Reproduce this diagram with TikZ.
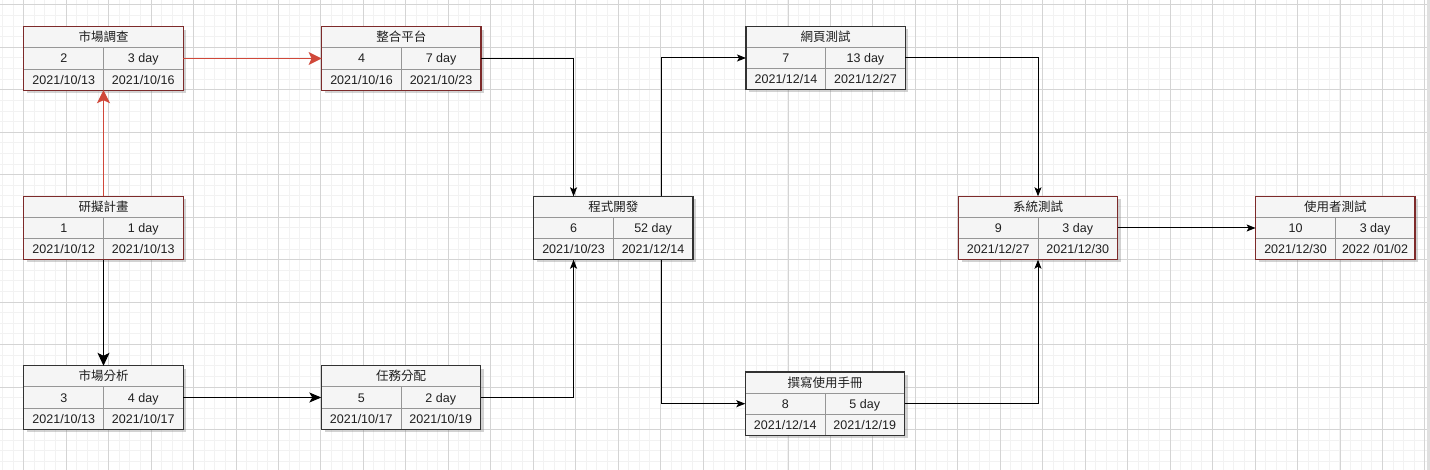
\documentclass[tikz,border=0pt]{standalone}
\usepackage{fontspec}
\setmainfont{Liberation Sans}
\newfontfamily\cjk{Noto Sans CJK TC}
\usetikzlibrary{arrows.meta,shadows}

\definecolor{gridminor}{RGB}{242,242,242}
\definecolor{gridmajor}{RGB}{212,212,212}
\definecolor{cellfill}{RGB}{245,245,245}
\definecolor{critborder}{RGB}{125,42,42}
\definecolor{normborder}{RGB}{50,50,50}
\definecolor{critline}{RGB}{208,72,58}
\definecolor{celldiv}{RGB}{150,150,150}

\tikzset{
  taskbox/.style={rectangle, fill=cellfill, minimum width=159pt, minimum height=63pt,
    inner sep=0pt, drop shadow={shadow xshift=3pt, shadow yshift=-3pt, opacity=0.35}},
  celltext/.style={font=\fontsize{12.5}{14}\selectfont, text=black!88, inner sep=0pt,
    text height=9pt, text depth=0pt},
  titletext/.style={celltext, font=\fontsize{12.5}{14}\selectfont\cjk},
  flow/.style={draw=black, line width=1pt, -{Stealth[length=9pt,width=7pt,inset=2pt]}},
  midflow/.style={flow, -{Stealth[length=12pt,width=10pt,inset=3pt]}},
  bigflow/.style={flow, -{Stealth[length=13pt,width=12pt,inset=3pt]}},
  critflow/.style={draw=critline, line width=1.2pt, -{Stealth[length=13pt,width=13pt,inset=3pt]}}
}

% name, position, border colour, title, id, duration, start, finish
\newcommand{\pertbox}[8]{%
  \node[taskbox] (#1) at (#2) {};
  \draw[celldiv, line width=0.8pt] ([yshift=-21pt]#1.north west) -- ([yshift=-21pt]#1.north east)
    ([yshift=21pt]#1.south west) -- ([yshift=21pt]#1.south east)
    ([yshift=-21pt]#1.north) -- (#1.south);
  \draw[#3, line width=1.2pt] (#1.north west) rectangle (#1.south east);
  \node[titletext] (#1-title) at ([yshift=-10.5pt]#1.north) {#4};
  \node[celltext] (#1-id) at ([xshift=-39.75pt]#1.center) {#5};
  \node[celltext] (#1-dur) at ([xshift=39.75pt]#1.center) {#6};
  \node[celltext] (#1-start) at ([xshift=-39.75pt,yshift=10.5pt]#1.south) {#7};
  \node[celltext] (#1-end) at ([xshift=39.75pt,yshift=10.5pt]#1.south) {#8};
}

\begin{document}
\begin{tikzpicture}[x=1pt, y=-1pt]
    \useasboundingbox (0,0) rectangle (1430,470);
    \fill[white] (0,0) rectangle (1430,470);
    % grid
    \foreach \i in {0,...,134}
        \draw[gridminor, line width=1pt] ({2.47+\i*10.615},0) -- ++(0,470);
    \foreach \i in {0,...,44}
        \draw[gridminor, line width=1pt] (0,{4.9+\i*10.615}) -- ++(1430,0);
    \foreach \i in {0,...,33}
        \draw[gridmajor, line width=0.9pt] ({23.7+\i*42.46},0) -- ++(0,470);
    \foreach \i in {0,...,11}
        \draw[gridmajor, line width=0.9pt] (0,{4.9+\i*42.46}) -- ++(1430,0);
    \fill[black!12] (1427,0) rectangle (1430,470);

    % tasks
    \pertbox{plan}{103.5,228}{critborder}{研擬計畫}{1}{1 day}{2021/10/12}{2021/10/13}
    \pertbox{survey}{103.5,58.5}{critborder}{市場調查}{2}{3 day}{2021/10/13}{2021/10/16}
    \pertbox{analysis}{103.5,397.5}{normborder}{市場分析}{3}{4 day}{2021/10/13}{2021/10/17}
    \pertbox{platform}{401.3,58.5}{critborder}{整合平台}{4}{7 day}{2021/10/16}{2021/10/23}
    \pertbox{assign}{401,397.5}{normborder}{任務分配}{5}{2 day}{2021/10/17}{2021/10/19}
    \pertbox{coding}{613.3,228}{normborder}{程式開發}{6}{52 day}{2021/10/23}{2021/12/14}
    \pertbox{webtest}{825.7,58}{normborder}{網頁測試}{7}{13 day}{2021/12/14}{2021/12/27}
    \pertbox{manual}{825,403.7}{normborder}{撰寫使用手冊}{8}{5 day}{2021/12/14}{2021/12/19}
    \pertbox{systest}{1038,228}{critborder}{系統測試}{9}{3 day}{2021/12/27}{2021/12/30}
    \pertbox{usertest}{1335.3,228}{critborder}{使用者測試}{10}{3 day}{2021/12/30}{2022 /01/02}

    % connectors
    \draw[critflow] (plan) -- (survey);
    \draw[critflow] (survey) -- (platform);
    \draw[bigflow] (plan) -- (analysis);
    \draw[midflow] (analysis) -- (assign);
    \draw[flow] (platform.east) -| ([xshift=-39.75pt]coding.north);
    \draw[flow] (assign.east) -| ([xshift=-39.75pt]coding.south);
    \draw[flow] ([xshift=48.5pt]coding.north) |- (webtest.west);
    \draw[flow] ([xshift=48.5pt]coding.south) |- (manual.west);
    \draw[flow] (webtest.east) -| (systest.north);
    \draw[flow] (manual.east) -| (systest.south);
    \draw[flow] (systest) -- (usertest);
\end{tikzpicture}
\end{document}
